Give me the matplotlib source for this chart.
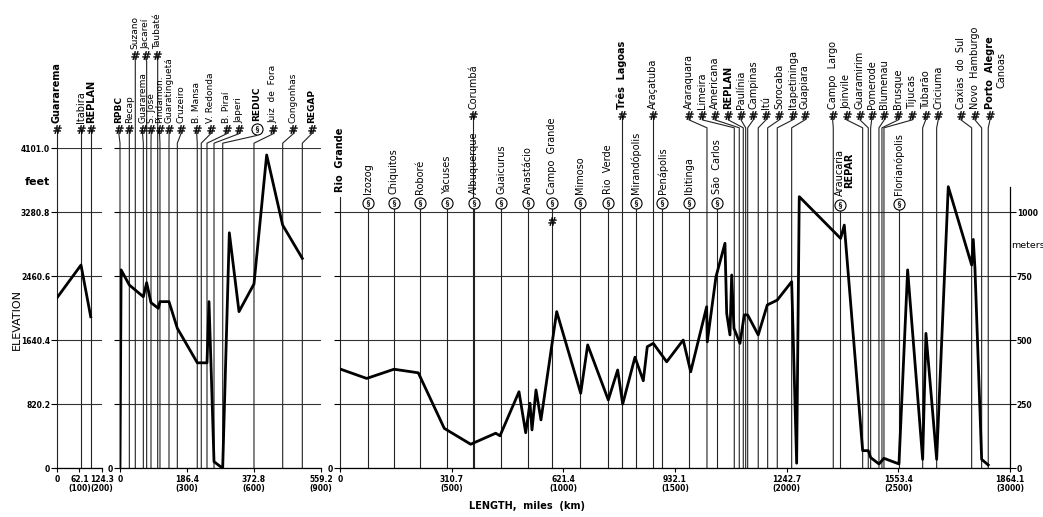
import matplotlib
matplotlib.use('Agg')
import matplotlib.pyplot as plt

# ---------------- data ----------------
km_ticks1 = [0, 100, 200]
km_ticks2 = [0, 300, 600, 900]
km_ticks3 = [0, 500, 1000, 1500, 2000, 2500, 3000]
mile_labels1 = ['0', '62.1\n(100)', '124.3\n(200)']
mile_labels2 = ['0', '186.4\n(300)', '372.8\n(600)', '559.2\n(900)']
mile_labels3 = ['0', '310.7\n(500)', '621.4\n(1000)', '932.1\n(1500)',
                '1242.7\n(2000)', '1553.4\n(2500)', '1864.1\n(3000)']
elev_m = [0, 250, 500, 750, 1000, 1250]
elev_ft_labels = ['0', '820.2', '1640.4', '2460.6', '3280.8', '4101.0']
meter_ticks = [0, 250, 500, 750, 1000]

# Panel 1 (Guararema - REPLAN)
p1_prof_km = [0, 107.5, 151]
p1_prof_m = [666, 794, 592]
p1_names = ['Guararema', 'Itabira', 'REPLAN']
p1_label_km = [0, 107.5, 151]
p1_line_km = [0, 107.5, 151]
p1_bold = ['Guararema', 'REPLAN']

# Panel 2 (RPBC - REGAP)
p2_prof_km = [0, 5, 41.8, 104.5, 119.4, 138.8, 171.6, 179, 219.4, 256.7, 346.3,
              389.6, 398.5, 409, 421, 459.8, 489.6, 532.9, 600, 656.8, 728.4, 816.5]
p2_prof_m = [0, 775, 716, 670, 725, 647, 625, 651, 651, 547, 412,
             412, 651, 364, 26, 0, 920, 612, 720, 1224, 950, 820]
p2_names = ['RPBC', 'Recap', 'Suzano', 'Guararema', 'Jacareí', 'S. José', 'Taubaté',
            'Pindamon.', 'Guaratinguetá', 'Cruzeiro', 'B. Mansa', 'V. Redonda',
            'B. Piraí', 'Japeri', 'REDUC', 'Juiz  de  Fora', 'Congonhas', 'REGAP']
p2_label_km = [-5, 41.6, 67, 101, 115, 139.5, 167, 177, 220, 273, 343.5, 406,
               478, 533, 612, 686.5, 776, 858.5]
p2_line_km = [0, 41.8, 68.5, 104.5, 119.4, 138.8, 168.8, 179, 219.4, 256.7, 346,
              364, 389.6, 421, 460, 600, 728.6, 816.5]
p2_kind = ['hash'] * 14 + ['pump'] + ['hash'] * 3
p2_high = ['Suzano', 'Jacareí', 'Taubaté']
p2_bold = ['RPBC', 'REDUC', 'REGAP']

# Panel 3 (Rio Grande - Porto Alegre)
p3_prof_km = [0, 119.6, 241.8, 350.6, 467, 585.3, 697.2, 716.5, 801.6, 831.6, 850.8,
              859.8, 877.7, 900, 970.4, 1077.9, 1109.2, 1201.5, 1243.5, 1265.9, 1321,
              1358.2, 1376.1, 1403, 1463, 1537, 1570.5, 1642, 1644.8, 1683.7, 1724,
              1731.7, 1746.4, 1754, 1764.3, 1791.2, 1810.4, 1825.7, 1873, 1913.4, 1958,
              2022.7, 2045, 2056.7, 2242, 2258.3, 2340.6, 2365.7, 2376.4, 2413.6, 2436,
              2503.2, 2542, 2609.3, 2624, 2672, 2724, 2828.7, 2835.9, 2843.5, 2873.5, 2903]
p3_prof_m = [388, 351, 387, 373, 156, 94, 137, 127, 299, 139, 254,
             150, 306, 189, 612, 293, 482, 267, 384, 251, 434,
             342, 475, 488, 416, 501, 377, 631, 494, 748, 879,
             605, 521, 755, 547, 488, 599, 599, 521, 638, 657,
             729, 20, 1061, 898, 950, 69, 69, 42, 17, 39,
             17, 775, 35, 527, 35, 1100, 794, 894, 781, 35, 13]
p3_names = ['Rio  Grande', 'Izozog', 'Chiquitos', 'Roboré', 'Yacuses', 'Corumbá',
            'Albuquerque', 'Guaicurus', 'Anastácio', 'Campo  Grande', 'Mimoso',
            'Rio  Verde', 'Três  Lagoas', 'Mirandópolis', 'Araçatuba', 'Penápolis',
            'Ibitinga', 'Araraquara', 'Limeira', 'São  Carlos', 'Americana', 'REPLAN',
            'Paulínia', 'Campinas', 'Itú', 'Sorocaba', 'Itapetininga', 'Guapiara',
            'Campo  Largo', 'Araucaria', 'Joinvile', 'Guaramirim', 'Pomerode',
            'Blumenau', 'Brusque', 'Florianópolis', 'Tijucas', 'Tubarão', 'Criciuma',
            'Caxias  do  Sul', 'Novo  Hamburgo', 'Porto  Alegre']
p3_label_km = [0, 126.7, 241.8, 358, 480.5, 597, 601.4, 723, 843, 948, 1074.7,
               1201.5, 1262.8, 1325.5, 1401.6, 1444, 1563, 1562.8, 1622.4, 1686.8,
               1679, 1738.8, 1795.7, 1850.8, 1907.6, 1967, 2027.2, 2082.3, 2206.3,
               2241, 2269, 2328.6, 2381, 2437.4, 2500, 2503, 2562.8, 2622.8, 2679,
               2780.8, 2843.5, 2910.7]
p3_line_km = [0, 126.7, 241.8, 358, 480.5, 597, 601.4, 723, 843, 948, 1074.7,
              1201.5, 1262.8, 1325.5, 1401.6, 1444, 1563, 1643.4, 1765.7, 1686.8,
              1788, 1806, 1816.7, 1825.7, 1873, 1915.2, 1958.2, 2022.7, 2209,
              2241, 2340.6, 2365.7, 2376.4, 2413.6, 2427, 2503, 2436, 2609.3, 2672,
              2828.7, 2873.5, 2903]
p3_kind = ['none', 'pump', 'pump', 'pump', 'pump', 'hash', 'pump', 'pump', 'pump',
           'pump', 'pump', 'pump', 'hash', 'pump', 'hash', 'pump', 'pump', 'hash',
           'hash', 'pump', 'hash', 'hash', 'hash', 'hash', 'hash', 'hash', 'hash',
           'hash', 'hash', 'pump', 'hash', 'hash', 'hash', 'hash', 'hash', 'pump',
           'hash', 'hash', 'hash', 'hash', 'hash', 'hash']
p3_bold = ['Rio  Grande', 'Três  Lagoas', 'REPLAN', 'Porto  Alegre']
p3_extra_hash_km = [948]          # Campo Grande secondary marker
p3_sub_labels = ['REPAR', 'Canoas']
p3_sub_km = [2280, 2963]

# ---------------- figure ----------------
W, H = 1043, 517
PXKM = 0.2233
PXM = 0.256
fig = plt.figure(figsize=(W / 100, H / 100), dpi=100)
bot = (H - 468.3) / H
hgt = 1250 * PXM / H

LINE_C = '#222222'
GRID_C = '#333333'
TXT = 7


def make_axes(left_px, span_km):
    ax = fig.add_axes([left_px / W, bot, span_km * PXKM / W, hgt])
    ax.set_xlim(0, span_km)
    ax.set_ylim(0, 1250)
    ax.set_facecolor('none')
    for s in ['top', 'right', 'left']:
        ax.spines[s].set_visible(False)
    ax.spines['bottom'].set_linewidth(0.9)
    ax.tick_params(axis='x', direction='out', length=3, width=0.8, pad=1.5,
                   labelsize=5.5)
    ax.tick_params(axis='y', direction='out', length=4, width=0.8, pad=1,
                   labelsize=5.5, colors='k')
    return ax


ax1 = make_axes(57, 200)
ax2 = make_axes(120, 900)
ax3 = make_axes(340, 3000)

for ax, tk, tl in [(ax1, km_ticks1, mile_labels1), (ax2, km_ticks2, mile_labels2),
                   (ax3, km_ticks3, mile_labels3)]:
    ax.set_xticks(tk)
    ax.set_xticklabels(tl, fontweight='bold', linespacing=1.0)

ax1.set_yticks(elev_m)
ax1.set_yticklabels(elev_ft_labels, fontweight='bold')
ax2.set_yticks(elev_m)
ax2.set_yticklabels(['0'] + [''] * 5, fontweight='bold')
ax3.set_yticks(meter_ticks)
ax3.set_yticklabels(['0'] + [''] * 4, fontweight='bold')
for ax in (ax1, ax2, ax3):
    ax.grid(axis='y', color=GRID_C, lw=0.8)
    ax.set_axisbelow(True)

sec = ax3.secondary_yaxis('right')
sec.set_yticks(meter_ticks)
sec.set_yticklabels([str(v) for v in meter_ticks], fontweight='bold')
sec.tick_params(direction='out', length=4, width=0.8, pad=1, labelsize=5.5)
sec.spines['right'].set_bounds(0, 1100)
sec.spines['right'].set_linewidth(0.9)


def hash_marker(ax, x, y):
    ax.plot([x], [y], marker=r'$\#$', ms=6, color='k', mew=0.3, clip_on=False, zorder=6)


def pump_marker(ax, x, y):
    ax.plot([x], [y], marker='o', ms=8, mfc='white', mec='k', mew=0.8,
            clip_on=False, zorder=6)
    ax.plot([x], [y], marker=r'$\S$', ms=4.5, color='k', mew=0.2,
            clip_on=False, zorder=7)


def station(ax, name, lab_x, line_x, kind, bold, mark_y, b1, b2, text_y, fs=TXT):
    if kind == 'none':
        ax.plot([line_x, line_x], [mark_y, 0], color=LINE_C, lw=0.8,
                clip_on=False, zorder=2)
    elif abs(lab_x - line_x) < 1e-6:
        ax.plot([lab_x, lab_x], [mark_y, 0], color=LINE_C, lw=0.8,
                clip_on=False, zorder=2)
    else:
        ax.plot([lab_x, lab_x, line_x, line_x], [mark_y, b1, b2, 0], color=LINE_C,
                lw=0.8, clip_on=False, zorder=2)
    if kind == 'hash':
        hash_marker(ax, lab_x, mark_y)
    elif kind == 'pump':
        pump_marker(ax, lab_x, mark_y)
    ax.text(lab_x, text_y, name, rotation=90, ha='center', va='bottom',
            fontsize=fs, fontweight='bold' if bold else 'normal', clip_on=False)


# panel 1
for n, lx, lnx in zip(p1_names, p1_label_km, p1_line_km):
    station(ax1, n, lx, lnx, 'hash', n in p1_bold, 1325, 1307, 1270, 1348)
ax1.plot(p1_prof_km, p1_prof_m, color='k', lw=2.0, zorder=5)

# panel 2
for n, lx, lnx, k in zip(p2_names, p2_label_km, p2_line_km, p2_kind):
    if n in p2_high:
        station(ax2, n, lx, lnx, k, n in p2_bold, 1614, 1600, 1590, 1638, fs=6.5)
    elif k == 'pump':
        station(ax2, n, lx, lnx, k, n in p2_bold, 1325, 1300, 1270, 1358, fs=6.5)
    else:
        station(ax2, n, lx, lnx, k, n in p2_bold, 1325, 1307, 1270, 1348, fs=6.5)
ax2.plot(p2_prof_km, p2_prof_m, color='k', lw=2.0, zorder=5)

# panel 3
for n, lx, lnx, k in zip(p3_names, p3_label_km, p3_line_km, p3_kind):
    b = n in p3_bold
    if k == 'hash':
        station(ax3, n, lx, lnx, k, b, 1380, 1361, 1330, 1403)
    elif k == 'pump':
        if n == 'Araucaria':
            station(ax3, n, lx, lnx, k, b, 1029, 1029, 1029, 1062)
        elif n == 'Florianópolis':
            station(ax3, n, lx, lnx, k, b, 1033, 1033, 1033, 1066)
        else:
            station(ax3, n, lx, lnx, k, b, 1037, 1037, 1037, 1070)
    else:
        station(ax3, n, lx, lnx, k, b, 1060, 1060, 1060, 1080)
for x in p3_extra_hash_km:
    hash_marker(ax3, x, 966)
ax3.text(p3_sub_km[0], 1165, p3_sub_labels[0], rotation=90, ha='center', va='center',
         fontsize=TXT, fontweight='bold', clip_on=False)
ax3.text(p3_sub_km[1], 1555, p3_sub_labels[1], rotation=90, ha='center', va='center',
         fontsize=TXT, clip_on=False)
ax3.plot(p3_prof_km, p3_prof_m, color='k', lw=2.0, zorder=5)

# axis titles
fig.text(17 / W, 1 - 320 / H, 'ELEVATION', rotation=90, ha='center', va='center',
         fontsize=8)
fig.text(37 / W, 1 - 182 / H, 'feet', ha='center', va='center', fontsize=8,
         fontweight='bold')
fig.text(1011 / W, 1 - 245 / H, 'meters', ha='left', va='center', fontsize=6.8)
fig.text(527 / W, 1 - 506 / H, 'LENGTH,  miles  (km)', ha='center', va='center',
         fontsize=7, fontweight='bold')

fig.savefig('out.png', dpi=100, facecolor='white')
